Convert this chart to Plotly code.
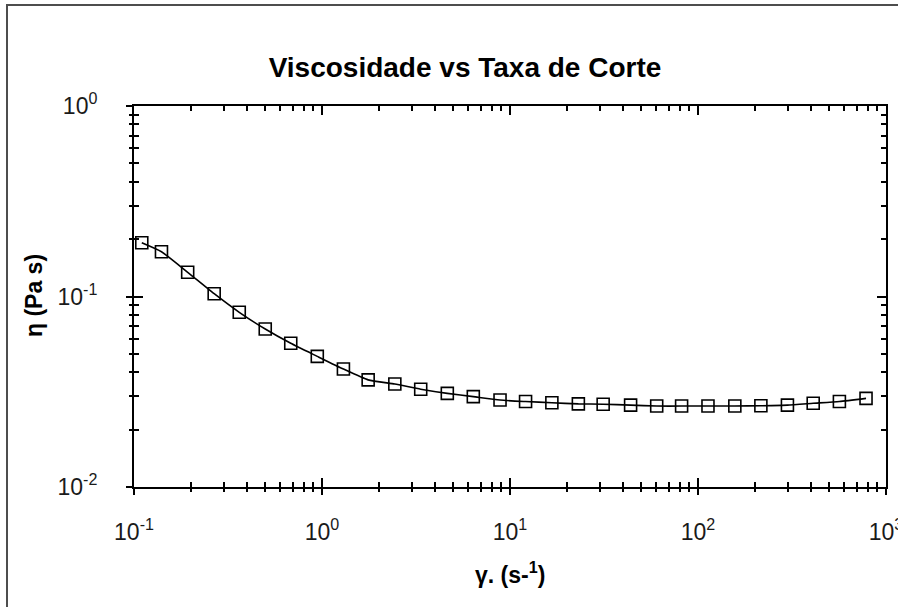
import plotly.graph_objects as go

# Shear rate (1/s) and viscosity (Pa s)
taxa_corte = [0.110, 0.140, 0.193, 0.267, 0.363, 0.499, 0.682, 0.944, 1.30, 1.76,
              2.44, 3.35, 4.64, 6.38, 8.85, 12.1, 16.7, 23.1, 31.3, 43.8,
              60.3, 81.8, 113, 157, 216, 299, 410, 565, 783]
viscosidade = [0.1915, 0.1718, 0.134, 0.1034, 0.0826, 0.0675, 0.0568, 0.0485, 0.0416, 0.0365,
               0.0347, 0.0326, 0.0310, 0.0298, 0.0286, 0.0281, 0.0277, 0.0273, 0.0272, 0.0269,
               0.0266, 0.0266, 0.0266, 0.0266, 0.0267, 0.0269, 0.0275, 0.0281, 0.0292]

x_tickvals = [0.1, 1, 10, 100, 1000]
x_ticktext = ["10<sup>-1</sup>", "10<sup>0</sup>", "10<sup>1</sup>", "10<sup>2</sup>", "10<sup>3</sup>"]
y_tickvals = [0.01, 0.1, 1]
y_ticktext = ["10<sup>-2</sup>", "10<sup>-1</sup>", "10<sup>0</sup>"]

FONT = "Liberation Sans, Arial, sans-serif"
W, H = 898, 607
L, R, T, B = 134, 12, 106, 120
pw, ph = W - L - R, H - T - B

fig = go.Figure()
fig.add_trace(go.Scatter(
    x=taxa_corte, y=viscosidade, mode="lines+markers",
    line=dict(color="black", width=1.6, shape="spline", smoothing=0.5),
    marker=dict(symbol="square-open", size=12, color="black", line=dict(width=1.6, color="black")),
    showlegend=False, hoverinfo="x+y",
))
# companion trace on the overlay axes so their inner ticks are drawn
fig.add_trace(go.Scatter(
    x=taxa_corte, y=viscosidade, xaxis="x2", yaxis="y2", mode="markers",
    marker=dict(opacity=0), showlegend=False, hoverinfo="skip",
))

tickfont = dict(family=FONT, size=23, color="#1a1a1a")
common = dict(type="log", showgrid=False, zeroline=False, tickwidth=1.5, tickcolor="black",
              automargin=False)

fig.update_layout(
    width=W, height=H,
    margin=dict(l=L, r=R, t=T, b=B),
    paper_bgcolor="white", plot_bgcolor="white",
    title=dict(text="<b>Viscosidade vs Taxa de Corte</b>", font=dict(family=FONT, size=28, color="black"),
               xref="paper", x=(465 - L) / pw, xanchor="center",
               yref="container", y=1 - 67 / H, yanchor="middle"),
    xaxis=dict(**common, range=[-1, 3], tickvals=x_tickvals, ticktext=x_ticktext,
               ticks="outside", ticklen=6, tickfont=tickfont, ticklabelstandoff=17,
               ticklabeloverflow="allow",
               minor=dict(ticks="outside", ticklen=3, dtick="D1", tickwidth=1.5, tickcolor="black"),
               showline=True, linewidth=2, linecolor="black", mirror=True),
    yaxis=dict(**common, range=[-2, 0], tickvals=y_tickvals, ticktext=y_ticktext,
               ticks="outside", ticklen=6, tickfont=tickfont, ticklabelstandoff=24,
               ticklabeloverflow="allow",
               minor=dict(ticks="outside", ticklen=3, dtick="D1", tickwidth=1.5, tickcolor="black"),
               showline=True, linewidth=2, linecolor="black", mirror=True),
    xaxis2=dict(**common, range=[-1, 3], overlaying="x", anchor="y2", dtick=1,
                ticks="inside", ticklen=9, showticklabels=False, showline=False, mirror="ticks",
                minor=dict(ticks="inside", ticklen=5, dtick="D1", tickwidth=1.5, tickcolor="black")),
    yaxis2=dict(**common, range=[-2, 0], overlaying="y", anchor="x2", dtick=1,
                ticks="inside", ticklen=9, showticklabels=False, showline=False, mirror="ticks",
                minor=dict(ticks="inside", ticklen=5, dtick="D1", tickwidth=1.5, tickcolor="black")),
)

# axis titles
fig.add_annotation(text="<b>η (Pa s)</b>", textangle=-90, showarrow=False,
                   xref="paper", yref="paper", x=(34 - L) / pw, y=(H - B - 296) / ph,
                   xanchor="center", yanchor="middle",
                   font=dict(family=FONT, size=23, color="black"))
fig.add_annotation(text="<b>γ. (s-<sup>1</sup>)</b>", showarrow=False,
                   xref="paper", yref="paper", x=(510 - L) / pw, y=(H - B - 573) / ph,
                   xanchor="center", yanchor="middle",
                   font=dict(family=FONT, size=23, color="black"))

# outer frame: left and top edges as one open path
fx0 = (7 - L) / pw
fx1 = (W + 10 - L) / pw
fy_top = (H - B - 5) / ph
fy_bot = (H - B - H - 10) / ph
fig.add_shape(type="path", xref="paper", yref="paper",
              path=f"M {fx0} {fy_bot} L {fx0} {fy_top} L {fx1} {fy_top}",
              line=dict(color="#4d4d4d", width=2))

fig.write_html("out.html")
